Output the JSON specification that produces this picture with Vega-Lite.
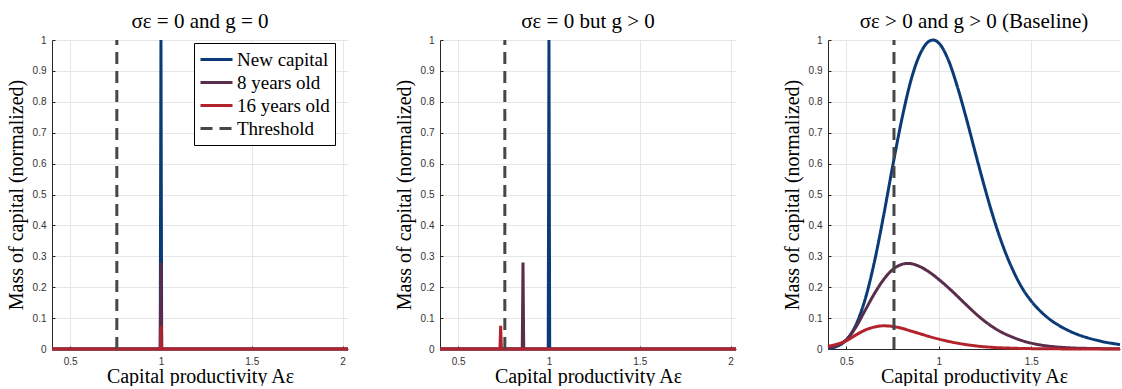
{
  "$schema": "https://vega.github.io/schema/vega-lite/v6.json",
  "padding": {"left": 6, "top": 11, "right": 0, "bottom": 0},
  "config": {
    "view": {"stroke": null},
    "font": "Liberation Serif",
    "axis": {
      "gridColor": "#e6e6e6", "gridWidth": 1,
      "domainColor": "#262626", "domainWidth": 1,
      "tickColor": "#262626", "tickSize": -3,
      "labelFont": "Liberation Sans", "labelFontSize": 10, "labelColor": "#333333",
      "format": "~g",
      "titleFont": "Liberation Serif", "titleFontSize": 20, "titleFontWeight": "normal", "titleColor": "#000000"
    },
    "axisY": {"labelPadding": 9, "titlePadding": 6},
    "axisX": {"labelPadding": 10, "titlePadding": 0, "titleFontSize": 20},
    "title": {"font": "Liberation Serif", "fontSize": 21, "fontWeight": "normal", "color": "#000000", "offset": 2}
  },
  "datasets": {
    "d": [
      {"panel": "p1", "series": "New capital", "x": 0.4, "y": 0},
      {"panel": "p1", "series": "New capital", "x": 0.996, "y": 0},
      {"panel": "p1", "series": "New capital", "x": 1.0, "y": 1},
      {"panel": "p1", "series": "New capital", "x": 1.004, "y": 0},
      {"panel": "p1", "series": "New capital", "x": 2.03, "y": 0},
      {"panel": "p1", "series": "8 years old", "x": 0.4, "y": 0},
      {"panel": "p1", "series": "8 years old", "x": 0.996, "y": 0},
      {"panel": "p1", "series": "8 years old", "x": 1.0, "y": 0.28},
      {"panel": "p1", "series": "8 years old", "x": 1.004, "y": 0},
      {"panel": "p1", "series": "8 years old", "x": 2.03, "y": 0},
      {"panel": "p1", "series": "16 years old", "x": 0.4, "y": 0},
      {"panel": "p1", "series": "16 years old", "x": 0.997, "y": 0},
      {"panel": "p1", "series": "16 years old", "x": 1.0, "y": 0.075},
      {"panel": "p1", "series": "16 years old", "x": 1.003, "y": 0},
      {"panel": "p1", "series": "16 years old", "x": 2.03, "y": 0},
      {"panel": "p1", "series": "Threshold", "x": 0.757, "y": 0},
      {"panel": "p1", "series": "Threshold", "x": 0.757, "y": 1},

      {"panel": "p2", "series": "New capital", "x": 0.4, "y": 0},
      {"panel": "p2", "series": "New capital", "x": 0.996, "y": 0},
      {"panel": "p2", "series": "New capital", "x": 1.0, "y": 1},
      {"panel": "p2", "series": "New capital", "x": 1.004, "y": 0},
      {"panel": "p2", "series": "New capital", "x": 2.03, "y": 0},
      {"panel": "p2", "series": "8 years old", "x": 0.4, "y": 0},
      {"panel": "p2", "series": "8 years old", "x": 0.853, "y": 0},
      {"panel": "p2", "series": "8 years old", "x": 0.857, "y": 0.28},
      {"panel": "p2", "series": "8 years old", "x": 0.861, "y": 0},
      {"panel": "p2", "series": "8 years old", "x": 2.03, "y": 0},
      {"panel": "p2", "series": "16 years old", "x": 0.4, "y": 0},
      {"panel": "p2", "series": "16 years old", "x": 0.73, "y": 0},
      {"panel": "p2", "series": "16 years old", "x": 0.734, "y": 0.075},
      {"panel": "p2", "series": "16 years old", "x": 0.738, "y": 0},
      {"panel": "p2", "series": "16 years old", "x": 2.03, "y": 0},
      {"panel": "p2", "series": "Threshold", "x": 0.757, "y": 0},
      {"panel": "p2", "series": "Threshold", "x": 0.757, "y": 1},

      {"panel": "p3", "series": "New capital", "x": 0.40, "y": 0.002},
      {"panel": "p3", "series": "New capital", "x": 0.45, "y": 0.009},
      {"panel": "p3", "series": "New capital", "x": 0.50, "y": 0.030},
      {"panel": "p3", "series": "New capital", "x": 0.55, "y": 0.077},
      {"panel": "p3", "series": "New capital", "x": 0.60, "y": 0.159},
      {"panel": "p3", "series": "New capital", "x": 0.65, "y": 0.279},
      {"panel": "p3", "series": "New capital", "x": 0.70, "y": 0.429},
      {"panel": "p3", "series": "New capital", "x": 0.75, "y": 0.592},
      {"panel": "p3", "series": "New capital", "x": 0.80, "y": 0.745},
      {"panel": "p3", "series": "New capital", "x": 0.85, "y": 0.872},
      {"panel": "p3", "series": "New capital", "x": 0.90, "y": 0.957},
      {"panel": "p3", "series": "New capital", "x": 0.95, "y": 0.997},
      {"panel": "p3", "series": "New capital", "x": 0.97, "y": 1.0},
      {"panel": "p3", "series": "New capital", "x": 1.00, "y": 0.990},
      {"panel": "p3", "series": "New capital", "x": 1.05, "y": 0.937},
      {"panel": "p3", "series": "New capital", "x": 1.10, "y": 0.849},
      {"panel": "p3", "series": "New capital", "x": 1.15, "y": 0.743},
      {"panel": "p3", "series": "New capital", "x": 1.20, "y": 0.629},
      {"panel": "p3", "series": "New capital", "x": 1.25, "y": 0.518},
      {"panel": "p3", "series": "New capital", "x": 1.30, "y": 0.416},
      {"panel": "p3", "series": "New capital", "x": 1.35, "y": 0.328},
      {"panel": "p3", "series": "New capital", "x": 1.40, "y": 0.256},
      {"panel": "p3", "series": "New capital", "x": 1.45, "y": 0.198},
      {"panel": "p3", "series": "New capital", "x": 1.50, "y": 0.155},
      {"panel": "p3", "series": "New capital", "x": 1.55, "y": 0.122},
      {"panel": "p3", "series": "New capital", "x": 1.60, "y": 0.096},
      {"panel": "p3", "series": "New capital", "x": 1.65, "y": 0.076},
      {"panel": "p3", "series": "New capital", "x": 1.70, "y": 0.060},
      {"panel": "p3", "series": "New capital", "x": 1.75, "y": 0.047},
      {"panel": "p3", "series": "New capital", "x": 1.80, "y": 0.037},
      {"panel": "p3", "series": "New capital", "x": 1.85, "y": 0.029},
      {"panel": "p3", "series": "New capital", "x": 1.90, "y": 0.022},
      {"panel": "p3", "series": "New capital", "x": 1.95, "y": 0.017},
      {"panel": "p3", "series": "New capital", "x": 1.98, "y": 0.014},
      {"panel": "p3", "series": "8 years old", "x": 0.40, "y": 0.004},
      {"panel": "p3", "series": "8 years old", "x": 0.45, "y": 0.012},
      {"panel": "p3", "series": "8 years old", "x": 0.50, "y": 0.030},
      {"panel": "p3", "series": "8 years old", "x": 0.55, "y": 0.070},
      {"panel": "p3", "series": "8 years old", "x": 0.60, "y": 0.124},
      {"panel": "p3", "series": "8 years old", "x": 0.65, "y": 0.178},
      {"panel": "p3", "series": "8 years old", "x": 0.70, "y": 0.224},
      {"panel": "p3", "series": "8 years old", "x": 0.75, "y": 0.257},
      {"panel": "p3", "series": "8 years old", "x": 0.80, "y": 0.274},
      {"panel": "p3", "series": "8 years old", "x": 0.83, "y": 0.277},
      {"panel": "p3", "series": "8 years old", "x": 0.85, "y": 0.276},
      {"panel": "p3", "series": "8 years old", "x": 0.90, "y": 0.266},
      {"panel": "p3", "series": "8 years old", "x": 0.95, "y": 0.248},
      {"panel": "p3", "series": "8 years old", "x": 1.00, "y": 0.225},
      {"panel": "p3", "series": "8 years old", "x": 1.05, "y": 0.199},
      {"panel": "p3", "series": "8 years old", "x": 1.10, "y": 0.171},
      {"panel": "p3", "series": "8 years old", "x": 1.15, "y": 0.142},
      {"panel": "p3", "series": "8 years old", "x": 1.20, "y": 0.114},
      {"panel": "p3", "series": "8 years old", "x": 1.25, "y": 0.089},
      {"panel": "p3", "series": "8 years old", "x": 1.30, "y": 0.068},
      {"panel": "p3", "series": "8 years old", "x": 1.35, "y": 0.051},
      {"panel": "p3", "series": "8 years old", "x": 1.40, "y": 0.038},
      {"panel": "p3", "series": "8 years old", "x": 1.45, "y": 0.027},
      {"panel": "p3", "series": "8 years old", "x": 1.50, "y": 0.019},
      {"panel": "p3", "series": "8 years old", "x": 1.55, "y": 0.013},
      {"panel": "p3", "series": "8 years old", "x": 1.60, "y": 0.009},
      {"panel": "p3", "series": "8 years old", "x": 1.70, "y": 0.004},
      {"panel": "p3", "series": "8 years old", "x": 1.80, "y": 0.002},
      {"panel": "p3", "series": "8 years old", "x": 1.90, "y": 0.001},
      {"panel": "p3", "series": "8 years old", "x": 1.98, "y": 0.0005},
      {"panel": "p3", "series": "16 years old", "x": 0.40, "y": 0.009},
      {"panel": "p3", "series": "16 years old", "x": 0.45, "y": 0.016},
      {"panel": "p3", "series": "16 years old", "x": 0.50, "y": 0.027},
      {"panel": "p3", "series": "16 years old", "x": 0.55, "y": 0.045},
      {"panel": "p3", "series": "16 years old", "x": 0.60, "y": 0.061},
      {"panel": "p3", "series": "16 years old", "x": 0.65, "y": 0.071},
      {"panel": "p3", "series": "16 years old", "x": 0.70, "y": 0.075},
      {"panel": "p3", "series": "16 years old", "x": 0.75, "y": 0.073},
      {"panel": "p3", "series": "16 years old", "x": 0.80, "y": 0.067},
      {"panel": "p3", "series": "16 years old", "x": 0.85, "y": 0.058},
      {"panel": "p3", "series": "16 years old", "x": 0.90, "y": 0.049},
      {"panel": "p3", "series": "16 years old", "x": 0.95, "y": 0.040},
      {"panel": "p3", "series": "16 years old", "x": 1.00, "y": 0.032},
      {"panel": "p3", "series": "16 years old", "x": 1.05, "y": 0.025},
      {"panel": "p3", "series": "16 years old", "x": 1.10, "y": 0.019},
      {"panel": "p3", "series": "16 years old", "x": 1.15, "y": 0.014},
      {"panel": "p3", "series": "16 years old", "x": 1.20, "y": 0.010},
      {"panel": "p3", "series": "16 years old", "x": 1.30, "y": 0.005},
      {"panel": "p3", "series": "16 years old", "x": 1.40, "y": 0.0025},
      {"panel": "p3", "series": "16 years old", "x": 1.50, "y": 0.0012},
      {"panel": "p3", "series": "16 years old", "x": 1.60, "y": 0.0006},
      {"panel": "p3", "series": "16 years old", "x": 1.80, "y": 0.0002},
      {"panel": "p3", "series": "16 years old", "x": 1.98, "y": 0.0001},
      {"panel": "p3", "series": "Threshold", "x": 0.757, "y": 0},
      {"panel": "p3", "series": "Threshold", "x": 0.757, "y": 1}
    ]
  },
  "spacing": 40,
  "resolve": {"legend": {"color": "independent", "strokeDash": "independent"}},
  "hconcat": [
    {
      "width": 296, "height": 309,
      "title": "σε = 0 and g = 0",
      "data": {"name": "d"},
      "transform": [{"filter": "datum.panel === 'p1'"}],
      "mark": {"type": "line", "strokeWidth": 3, "clip": false},
      "encoding": {
        "x": {"field": "x", "type": "quantitative", "scale": {"domain": [0.4, 2.03], "nice": false, "zero": false}, "axis": {"values": [0.5, 1, 1.5, 2], "title": "Capital productivity Aε"}},
        "y": {"field": "y", "type": "quantitative", "scale": {"domain": [0, 1], "nice": false}, "axis": {"values": [0, 0.1, 0.2, 0.3, 0.4, 0.5, 0.6, 0.7, 0.8, 0.9, 1], "title": "Mass of capital (normalized)"}},
        "color": {"field": "series", "type": "nominal", "sort": null,
          "scale": {"domain": ["New capital", "8 years old", "16 years old", "Threshold"], "range": ["#0a3b76", "#5b2d4d", "#b3232b", "#474747"]},
          "legend": {"title": null, "orient": "none", "legendX": 142, "legendY": 3, "strokeColor": "#000000", "fillColor": "#ffffff", "padding": 5, "symbolType": "stroke", "symbolSize": 1024, "symbolStrokeWidth": 3, "labelFont": "Liberation Serif", "labelFontSize": 19, "labelColor": "#000000", "rowPadding": 0, "clipHeight": 23, "labelOffset": 3}},
        "strokeDash": {"field": "series", "type": "nominal", "sort": null,
          "scale": {"domain": ["New capital", "8 years old", "16 years old", "Threshold"], "range": [[1, 0], [1, 0], [1, 0], [12, 7]]},
          "legend": {"title": null, "orient": "none", "legendX": 142, "legendY": 3, "strokeColor": "#000000", "fillColor": "#ffffff", "padding": 5, "symbolType": "stroke", "symbolSize": 1024, "symbolStrokeWidth": 3, "labelFont": "Liberation Serif", "labelFontSize": 19, "labelColor": "#000000", "rowPadding": 0, "clipHeight": 23, "labelOffset": 3}}
      }
    },
    {
      "width": 296, "height": 309,
      "title": "σε = 0 but g > 0",
      "data": {"name": "d"},
      "transform": [{"filter": "datum.panel === 'p2'"}],
      "mark": {"type": "line", "strokeWidth": 3, "clip": false},
      "encoding": {
        "x": {"field": "x", "type": "quantitative", "scale": {"domain": [0.4, 2.03], "nice": false, "zero": false}, "axis": {"values": [0.5, 1, 1.5, 2], "title": "Capital productivity Aε"}},
        "y": {"field": "y", "type": "quantitative", "scale": {"domain": [0, 1], "nice": false}, "axis": {"values": [0, 0.1, 0.2, 0.3, 0.4, 0.5, 0.6, 0.7, 0.8, 0.9, 1], "title": "Mass of capital (normalized)"}},
        "color": {"field": "series", "type": "nominal", "sort": null,
          "scale": {"domain": ["New capital", "8 years old", "16 years old", "Threshold"], "range": ["#0a3b76", "#5b2d4d", "#b3232b", "#474747"]},
          "legend": null},
        "strokeDash": {"field": "series", "type": "nominal", "sort": null,
          "scale": {"domain": ["New capital", "8 years old", "16 years old", "Threshold"], "range": [[1, 0], [1, 0], [1, 0], [12, 7]]},
          "legend": null}
      }
    },
    {
      "width": 292, "height": 309,
      "title": "σε > 0 and g > 0 (Baseline)",
      "data": {"name": "d"},
      "transform": [{"filter": "datum.panel === 'p3'"}],
      "mark": {"type": "line", "strokeWidth": 3, "clip": false, "interpolate": "monotone"},
      "encoding": {
        "x": {"field": "x", "type": "quantitative", "scale": {"domain": [0.4, 1.98], "nice": false, "zero": false}, "axis": {"values": [0.5, 1, 1.5], "title": "Capital productivity Aε"}},
        "y": {"field": "y", "type": "quantitative", "scale": {"domain": [0, 1], "nice": false}, "axis": {"values": [0, 0.1, 0.2, 0.3, 0.4, 0.5, 0.6, 0.7, 0.8, 0.9, 1], "title": "Mass of capital (normalized)"}},
        "color": {"field": "series", "type": "nominal", "sort": null,
          "scale": {"domain": ["New capital", "8 years old", "16 years old", "Threshold"], "range": ["#0a3b76", "#5b2d4d", "#b3232b", "#474747"]},
          "legend": null},
        "strokeDash": {"field": "series", "type": "nominal", "sort": null,
          "scale": {"domain": ["New capital", "8 years old", "16 years old", "Threshold"], "range": [[1, 0], [1, 0], [1, 0], [12, 7]]},
          "legend": null}
      }
    }
  ]
}
